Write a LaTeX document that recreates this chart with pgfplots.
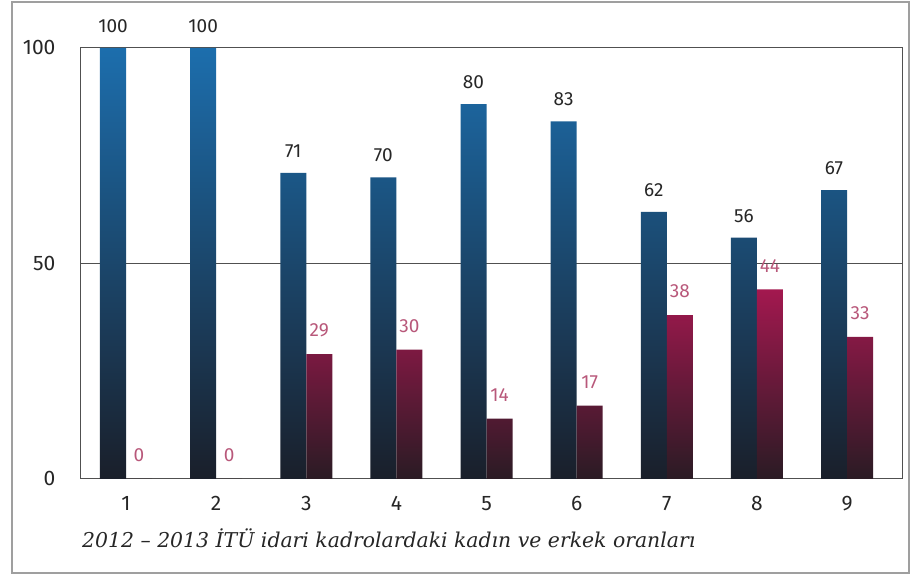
\documentclass[border=0pt]{standalone}
\usepackage{pgfplots}
\pgfplotsset{compat=1.18}
\usepackage{pgfplotstable}
\usepackage{fontspec}
\setmainfont{Fira Sans}
\newfontfamily\capfont{DejaVu Serif}
\definecolor{bluetop}{HTML}{1C6EAD}
\definecolor{bluemid}{HTML}{1E4566}
\definecolor{bluebot}{HTML}{1A1F2A}
\definecolor{redtop}{HTML}{A3184F}
\definecolor{redmid}{HTML}{6E1A3B}
\definecolor{redbot}{HTML}{2A1B24}
\definecolor{redlab}{HTML}{B8587A}
\definecolor{framec}{HTML}{505050}

\pgfplotstableread{
x blue bluelab red
1 100 100 0
2 100 100 0
3 71 71 29
4 70 70 30
5 87 80 14
6 83 83 17
7 62 62 38
8 56 56 44
9 67 67 33
}\datatable

\begin{document}
\begin{tikzpicture}
\useasboundingbox (0pt,0pt) rectangle (912pt,577pt);
\draw[gray!75, line width=1.2pt] (12pt,4pt) rectangle (909pt,575pt);
\begin{axis}[
  at={(80pt,98pt)}, anchor=south west,
  scale only axis, width=822pt, height=431pt,
  xmin=0.4895, xmax=9.61, ymin=0, ymax=100,
  xtick={1,...,9}, ytick={0,50,100},
  major tick length=0pt,
  axis line style={framec, line width=1pt},
  ymajorgrids, grid style={framec, line width=1pt},
  tick label style={font=\fontsize{21}{21}\selectfont, text=black!85},
  yticklabel style={anchor=east, xshift=-21pt},
  xticklabel style={anchor=north, yshift=-14pt},
  /pgf/number format/assume math mode=true,
  bar width=0.2886, clip=false,
]
\addplot[ybar, bar shift=-0.1443, draw=none, top color=bluetop, middle color=bluemid, bottom color=bluebot,
  nodes near coords, point meta=explicit symbolic,
  nodes near coords style={anchor=south, inner sep=0pt, xshift=-13pt, yshift=15pt, text=black!85, font=\fontsize{19}{19}\selectfont}]
  table[x=x, y=blue, meta=bluelab]{\datatable};
\addplot[ybar, bar shift=0.1443, draw=none, top color=redtop, middle color=redmid, bottom color=redbot,
  nodes near coords, point meta=explicit symbolic,
  nodes near coords style={anchor=south, inner sep=0pt, xshift=13pt, yshift=17pt, text=redlab, font=\fontsize{19}{19}\selectfont}]
  table[x=x, y=red, meta=red]{\datatable};
\end{axis}
\node[anchor=base west, inner sep=0pt, text=black!85, font=\capfont\itshape\fontsize{20.4}{20.4}\selectfont] at (82pt,29pt) {2012 – 2013 İTÜ idari kadrolardaki kadın ve erkek oranları};
\end{tikzpicture}
\end{document}
